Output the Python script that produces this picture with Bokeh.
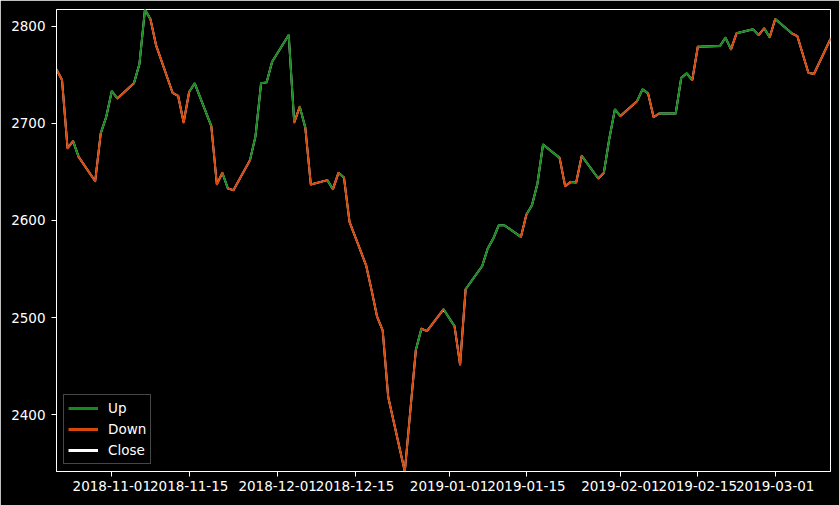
import numpy as np
from bokeh.plotting import figure
from bokeh.models import (ColumnDataSource, Range1d, FixedTicker,
                          DatetimeTickFormatter, Legend, LegendItem)
from bokeh.embed import file_html
from bokeh.resources import INLINE

# ---- data ----
dates = [
    "2018-10-22", "2018-10-23", "2018-10-24", "2018-10-25", "2018-10-26",
    "2018-10-29", "2018-10-30", "2018-10-31", "2018-11-01", "2018-11-02",
    "2018-11-05", "2018-11-06", "2018-11-07", "2018-11-08", "2018-11-09",
    "2018-11-12", "2018-11-13", "2018-11-14", "2018-11-15", "2018-11-16",
    "2018-11-19", "2018-11-20", "2018-11-21", "2018-11-22", "2018-11-23",
    "2018-11-26", "2018-11-27", "2018-11-28", "2018-11-29", "2018-11-30",
    "2018-12-03", "2018-12-04", "2018-12-05", "2018-12-06", "2018-12-07",
    "2018-12-10", "2018-12-11", "2018-12-12", "2018-12-13", "2018-12-14",
    "2018-12-17", "2018-12-18", "2018-12-19", "2018-12-20", "2018-12-21",
    "2018-12-24", "2018-12-26", "2018-12-27", "2018-12-28", "2018-12-31",
    "2019-01-02", "2019-01-03", "2019-01-04", "2019-01-07", "2019-01-08",
    "2019-01-09", "2019-01-10", "2019-01-11", "2019-01-14", "2019-01-15",
    "2019-01-16", "2019-01-17", "2019-01-18", "2019-01-21", "2019-01-22",
    "2019-01-23", "2019-01-24", "2019-01-25", "2019-01-28", "2019-01-29",
    "2019-01-30", "2019-01-31", "2019-02-01", "2019-02-04", "2019-02-05",
    "2019-02-06", "2019-02-07", "2019-02-08", "2019-02-11", "2019-02-12",
    "2019-02-13", "2019-02-14", "2019-02-15", "2019-02-19", "2019-02-20",
    "2019-02-21", "2019-02-22", "2019-02-25", "2019-02-26", "2019-02-27",
    "2019-02-28", "2019-03-01", "2019-03-04", "2019-03-05", "2019-03-07",
    "2019-03-08", "2019-03-11",
]
close = [
    2755.4, 2744.4, 2674.3, 2681.5, 2665.4,
    2640.3, 2689.5, 2706.6, 2733.0, 2725.5,
    2741.0, 2760.9, 2817.0, 2806.9, 2780.4,
    2731.3, 2728.2, 2700.8, 2732.4, 2741.0,
    2697.1, 2637.2, 2648.9, 2632.8, 2631.1,
    2662.0, 2686.7, 2741.0, 2742.0, 2763.2,
    2790.7, 2700.8, 2716.9, 2695.6, 2636.9,
    2641.4, 2632.1, 2648.9, 2644.1, 2598.4,
    2553.8, 2528.0, 2500.6, 2486.9, 2418.2,
    2341.6, 2466.7, 2488.6, 2486.1, 2508.5,
    2491.0, 2451.5, 2529.1, 2553.1, 2571.0,
    2581.3, 2595.0, 2595.0, 2583.0, 2606.0,
    2615.6, 2638.0, 2678.1, 2664.3, 2635.2,
    2639.6, 2639.0, 2666.4, 2643.1, 2648.9,
    2684.3, 2714.2, 2707.3, 2722.7, 2734.8,
    2730.7, 2706.3, 2710.0, 2710.0, 2746.7,
    2751.3, 2744.4, 2778.7, 2779.4, 2788.0,
    2776.0, 2792.5, 2796.6, 2790.7, 2797.6,
    2788.4, 2807.2, 2792.5, 2789.7, 2751.9,
    2750.6, 2786.6,
]
# colour of the segment that ends on each day (U = up/green, D = down/red)
direction = [
    "",  "D", "D", "D", "U",
    "D", "D", "U", "U", "U",
    "D", "U", "U", "U", "D",
    "D", "D", "D", "D", "U",
    "U", "D", "D", "U", "D",
    "D", "U", "U", "U", "U",
    "U", "U", "D", "U", "D",
    "D", "U", "D", "U", "D",
    "D", "D", "D", "D", "D",
    "D", "D", "U", "D", "D",
    "U", "D", "D", "U", "U",
    "U", "U", "U", "U", "D",
    "U", "U", "U", "U", "D",
    "D", "U", "D", "U", "D",
    "U", "U", "U", "D", "U",
    "U", "D", "D", "U", "U",
    "U", "U", "D", "U", "U",
    "U", "D", "U", "U", "D",
    "U", "D", "U", "D", "D",
    "D", "D",
]
tick_dates = ["2018-11-01", "2018-11-15", "2018-12-01", "2018-12-15",
              "2019-01-01", "2019-01-15", "2019-02-01", "2019-02-15",
              "2019-03-01"]
y_ticks = [2400, 2500, 2600, 2700, 2800]

UP_COLOR = "#17891f"
DOWN_COLOR = "#d9480b"

# ---- build ----
xs = np.array(dates, dtype="datetime64[ms]").astype("int64").astype(float)
ys = np.array(close, dtype=float)
xt = np.array(tick_dates, dtype="datetime64[ms]").astype("int64").astype(float)


def seg_source(flag):
    idx = [i for i in range(1, len(xs)) if direction[i] == flag]
    return ColumnDataSource(dict(
        x0=[xs[i - 1] for i in idx], x1=[xs[i] for i in idx],
        y0=[ys[i - 1] for i in idx], y1=[ys[i] for i in idx]))


p = figure(width=839, height=505, x_axis_type="datetime",
           output_backend="svg", toolbar_location=None,
           x_range=Range1d(xs.min(), xs.max()),
           y_range=Range1d(ys.min(), ys.max()),
           min_border_left=56, min_border_right=9,
           min_border_top=9, min_border_bottom=34)

p.background_fill_color = "black"
p.border_fill_color = "black"
p.outline_line_color = "white"
p.outline_line_width = 1
p.grid.visible = False

r_close = p.line(xs, ys, line_color="white", line_width=2)
r_up = p.segment("x0", "y0", "x1", "y1", source=seg_source("U"),
                 line_color=UP_COLOR, line_width=2, line_cap="round")
r_dn = p.segment("x0", "y0", "x1", "y1", source=seg_source("D"),
                 line_color=DOWN_COLOR, line_width=2, line_cap="round")


# legend-only renderers (thicker lines like the reference legend)
def dummy():
    return ColumnDataSource(dict(x=[float("nan")], y=[float("nan")]))


l_up = p.line("x", "y", source=dummy(), line_color=UP_COLOR, line_width=3)
l_dn = p.line("x", "y", source=dummy(), line_color=DOWN_COLOR, line_width=3)
l_cl = p.line("x", "y", source=dummy(), line_color="white", line_width=3)

fmt = "%Y-%m-%d"
p.xaxis.ticker = FixedTicker(ticks=list(xt))
p.xaxis.formatter = DatetimeTickFormatter(days=fmt, months=fmt, years=fmt,
                                          hours=fmt, minutes=fmt)
p.yaxis.ticker = FixedTicker(ticks=y_ticks)

for ax in (p.xaxis, p.yaxis):
    ax.axis_line_color = "white"
    ax.major_tick_line_color = "white"
    ax.minor_tick_line_color = None
    ax.major_tick_out = 5
    ax.major_tick_in = 0
    ax.major_label_text_color = "white"
    ax.major_label_text_font = "DejaVu Sans"
    ax.major_label_text_font_size = "13.5px"
p.yaxis.major_label_standoff = 6
p.xaxis.major_label_standoff = 4

legend = Legend(items=[LegendItem(label="Up", renderers=[l_up]),
                       LegendItem(label="Down", renderers=[l_dn]),
                       LegendItem(label="Close", renderers=[l_cl])],
                location="bottom_left")
legend.label_text_color = "white"
legend.label_text_font = "DejaVu Sans"
legend.label_text_font_size = "13.5px"
legend.background_fill_color = "black"
legend.background_fill_alpha = 0.8
legend.border_line_color = "#8c8c8c"
legend.border_line_width = 1
legend.padding = 4
legend.spacing = 3
legend.label_height = 18
legend.glyph_height = 18
legend.glyph_width = 30
legend.label_standoff = 10
legend.margin = 7
p.add_layout(legend)

open("out.html", "w").write(file_html(p, INLINE))
